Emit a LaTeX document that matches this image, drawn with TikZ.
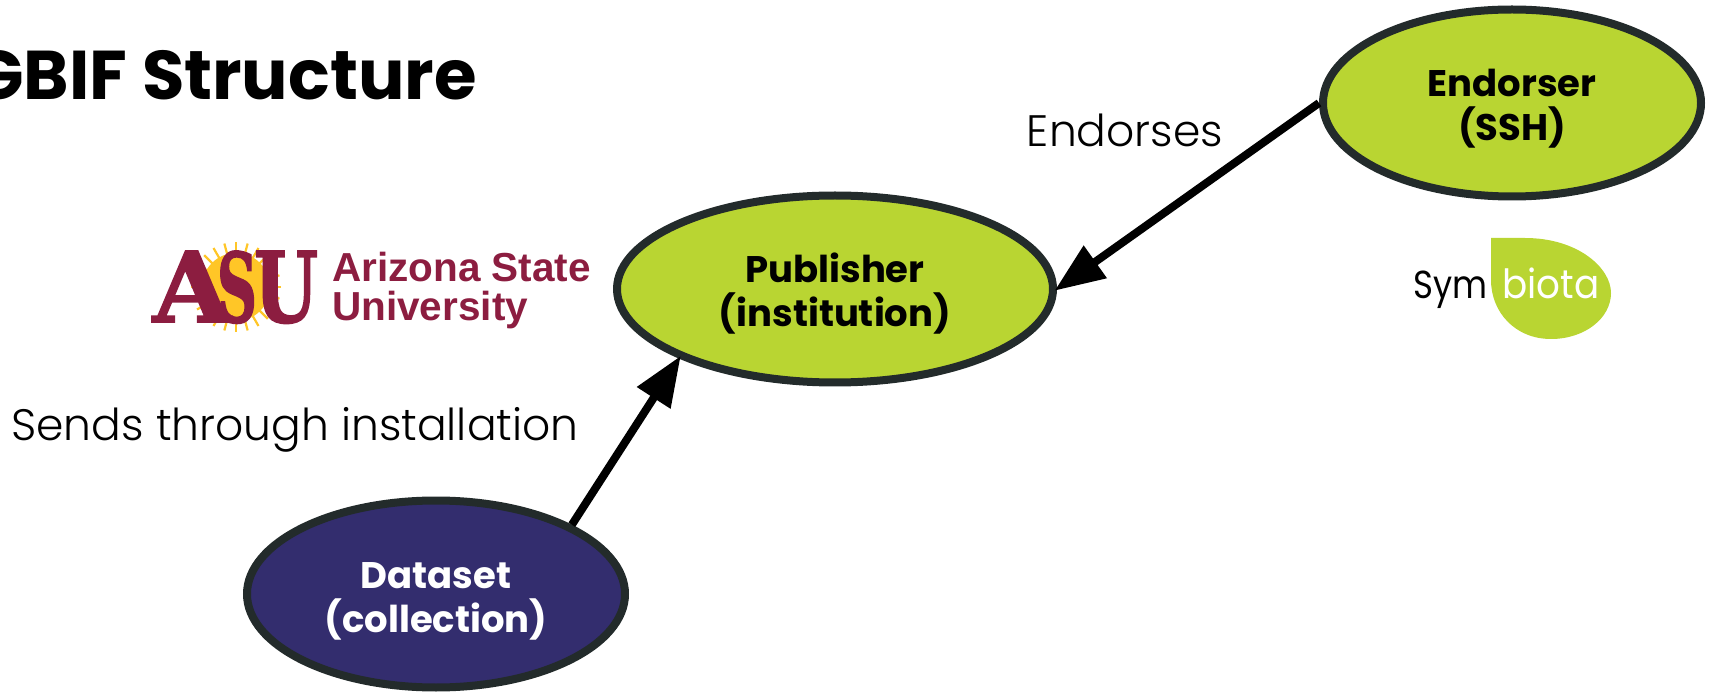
\documentclass[tikz,border=0pt]{standalone}
\usepackage{fontspec}
\setmainfont{Poppins}
\newfontfamily\lightfont{Poppins Light}
\newfontfamily\logofont{Liberation Sans}
\newfontfamily\asufont[FakeBold=2]{DejaVu Serif Bold}
\usetikzlibrary{arrows.meta,shapes.geometric}
\definecolor{lime}{HTML}{B9D532}
\definecolor{navy}{HTML}{332D6E}
\definecolor{rimcol}{HTML}{232B2B}
\definecolor{asumaroon}{HTML}{8C1D40}
\definecolor{asugold}{HTML}{FFC627}
\newcommand\lowered[1]{\raisebox{-16pt}[0pt][0pt]{#1}}
\tikzset{
  x=1pt,y=-1pt,
  bubble/.style={ellipse,draw=rimcol,line width=8pt,inner sep=0pt,align=center,font=\fontsize{37}{44}\selectfont\bfseries,text=black},
  link/.style={line width=8pt,-{Triangle[length=50pt,width=38pt]},black,shorten >=-3pt},
  caption/.style={font=\lightfont\fontsize{44}{44}\selectfont,inner sep=0pt,anchor=base},
}
\begin{document}
\begin{tikzpicture}
\useasboundingbox (0,0) rectangle (1711,692);
\clip (0,0) rectangle (1711,692);
% title
\node[font=\fontsize{69}{70}\selectfont\bfseries,inner sep=0pt,anchor=base east] (title) at (477,100) {GBIF Structure};
% bubbles
\node[bubble,fill=lime,minimum width=436pt,minimum height=187pt] (publisher) at (835,289) {\lowered{Publisher}\\\lowered{(institution)}};
\node[bubble,fill=lime,minimum width=378pt,minimum height=187pt] (endorser) at (1512,103) {\lowered{Endorser}\\\lowered{(SSH)}};
\node[bubble,fill=navy,text=white,minimum width=378pt,minimum height=187pt] (dataset) at (436,594) {\lowered{Dataset}\\\lowered{(collection)}};
% connectors
\draw[link] (dataset.27) -- (publisher.204);
\draw[link] (endorser.180) -- (publisher.0);
% labels
\node[caption] (sends) at (295,441) {Sends through installation};
\node[caption] (endorses) at (1125,147) {Endorses};
% ASU logo
\fill[asugold] (236,287) circle (34);
\foreach \a in {0,15,...,345}{\draw[asugold,line width=2.2pt] (236,287) -- ++(\a:45);}
\node[inner sep=0pt,anchor=base,text=asumaroon] (asuA) at (192,322) {\resizebox{78pt}{71pt}{\asufont A}};
\node[inner sep=0pt,anchor=base,text=asumaroon] (asuS) at (237,322) {\resizebox{40pt}{71pt}{\asufont S}};
\node[inner sep=0pt,anchor=base,text=asumaroon] (asuU) at (286,322) {\resizebox{64pt}{71pt}{\asufont U}};
\node[inner sep=0pt,anchor=base west,text=asumaroon,font=\logofont\bfseries\fontsize{40.5}{46}\selectfont] (asuName) at (332,282) {Arizona State};
\node[inner sep=0pt,anchor=base west,text=asumaroon,font=\logofont\bfseries\fontsize{40.5}{46}\selectfont] (asuUni) at (332,321) {University};
% Symbiota logo
\fill[lime] (1491,238) -- (1525,238) .. controls (1578,238) and (1611,268) .. (1611,293) .. controls (1611,318) and (1585,339) .. (1551,339) .. controls (1515,339) and (1491,312) .. (1491,280) -- cycle;
\node[inner sep=0pt,anchor=base west,font=\fontsize{44}{44}\selectfont] (sym) at (1413,299) {\resizebox{74pt}{!}{\scalebox{1}[1.15]{Sym}}};
\node[inner sep=0pt,anchor=base west,text=white,font=\fontsize{44}{44}\selectfont] (biota) at (1502,299) {\resizebox{97pt}{!}{\scalebox{1}[1.08]{biota}}};
\end{tikzpicture}
\end{document}
